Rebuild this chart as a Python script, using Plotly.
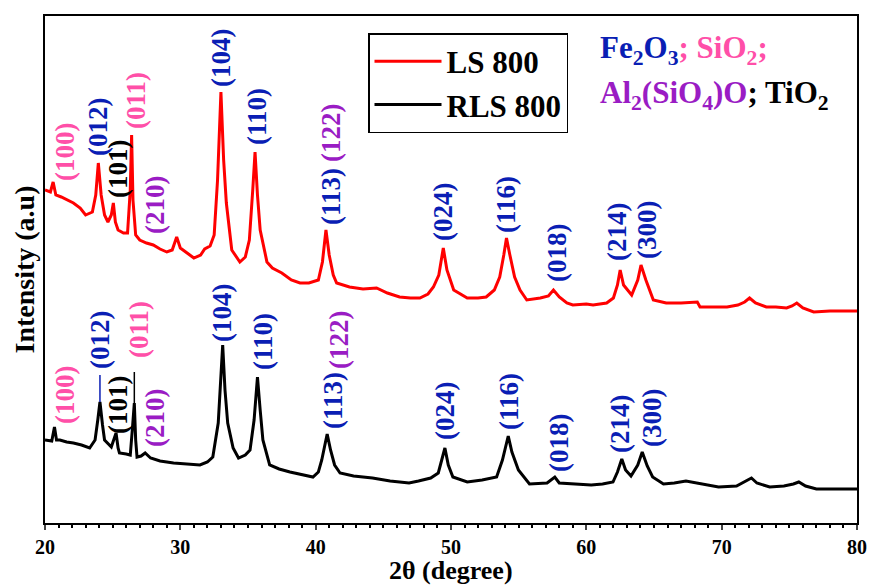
import plotly.graph_objects as go

# ---- data (2theta in degrees, intensity in arbitrary units) ----
ls800_2theta = [20.0, 20.4, 20.6, 20.8, 21.2, 21.6, 22.1, 22.6, 23.0, 23.5, 23.75, 23.94, 24.15, 24.4, 24.65,
                24.9, 25.05, 25.2, 25.4, 25.8, 26.1, 26.3, 26.4, 26.5, 26.7, 27.0, 27.5, 28.0, 28.5, 29.0,
                29.4, 29.73, 30.0, 30.5, 31.0, 31.5, 31.8, 32.2, 32.5, 32.75, 33.0, 33.2, 33.4, 33.8, 34.4,
                34.8, 35.1, 35.35, 35.52, 35.7, 35.9, 36.4, 36.8, 37.5, 38.2, 38.84, 39.5, 40.2, 40.5, 40.76,
                41.0, 41.3, 41.55, 42.5, 43.5, 44.5, 45.3, 46.2, 47.0, 47.7, 48.3, 48.7, 49.1, 49.43, 49.7,
                50.2, 51.2, 52.0, 52.6, 53.2, 53.6, 53.9, 54.1, 54.35, 54.7, 55.1, 55.6, 56.6, 57.2, 57.57,
                58.0, 58.56, 59.0, 60.0, 60.5, 61.5, 62.0, 62.3, 62.5, 62.75, 63.35, 63.8, 64.04, 64.4, 64.95,
                65.9, 67.0, 68.2, 68.4, 69.5, 70.4, 71.2, 71.7, 72.06, 72.5, 73.3, 74.0, 74.8, 75.2, 75.55,
                76.0, 76.8, 78.0, 79.0, 80.0]
ls800_int = [333, 331, 341, 328, 326, 323, 320, 315, 308, 311, 328, 360, 328, 308, 301,
             308, 320, 301, 293, 290, 290, 333, 388, 323, 288, 283, 280, 278, 274, 271,
             273, 286, 275, 270, 265, 268, 274, 277, 288, 343, 431, 363, 320, 273, 261,
             266, 283, 333, 371, 328, 293, 261, 255, 250, 243, 240, 240, 243, 261, 293,
             268, 248, 240, 236, 234, 235, 230, 226, 225, 225, 229, 236, 248, 275, 253,
             233, 225, 225, 226, 233, 246, 268, 285, 268, 246, 233, 223, 225, 227, 233,
             226, 220, 218, 219, 218, 220, 225, 238, 253, 238, 228, 243, 258, 243, 223,
             220, 220, 221, 216, 216, 216, 218, 221, 225, 220, 216, 216, 215, 217, 220,
             215, 211, 212, 212, 212]

rls800_2theta = [20.0, 20.5, 20.7, 20.85, 21.1, 21.6, 22.1, 22.7, 23.3, 23.7, 23.9, 24.06, 24.25, 24.4, 24.9,
                 25.1, 25.25, 25.4, 25.5, 26.0, 26.3, 26.45, 26.6, 26.7, 26.8, 27.1, 27.4, 27.8, 28.5, 29.5,
                 30.5, 31.45, 32.0, 32.4, 32.8, 33.13, 33.3, 33.5, 33.9, 34.3, 34.8, 35.15, 35.45, 35.7, 35.9,
                 36.1, 36.6, 37.3, 38.1, 39.0, 39.8, 40.2, 40.45, 40.85, 41.1, 41.4, 41.8, 42.8, 44.2, 45.5,
                 46.9, 47.6, 48.0, 48.5, 49.06, 49.3, 49.55, 49.8, 50.14, 51.2, 52.3, 53.37, 53.8, 54.23, 54.5,
                 54.98, 55.8, 57.1, 57.67, 58.0, 59.0, 60.36, 61.2, 61.97, 62.3, 62.62, 62.9, 63.3, 63.8, 64.13,
                 64.5, 64.9, 65.7, 66.5, 67.36, 68.5, 69.77, 71.1, 71.8, 72.2, 72.6, 73.55, 74.6, 75.3, 75.7,
                 76.2, 77.0, 78.5, 80.0]
rls800_int = [83, 82, 96, 83, 83, 81, 80, 78, 75, 83, 103, 121, 98, 83, 76,
              83, 90, 75, 70, 69, 68, 93, 120, 83, 66, 67, 70, 65, 62, 60,
              59, 58, 61, 66, 100, 178, 133, 100, 75, 65, 68, 73, 103, 146, 113,
              83, 58, 54, 51, 48, 46, 51, 63, 89, 73, 58, 50, 47, 45, 42,
              40, 42, 43, 45, 50, 63, 75, 58, 46, 41, 43, 46, 63, 87, 71,
              53, 39, 40, 46, 40, 39, 38, 39, 41, 51, 64, 53, 47, 58, 71,
              57, 46, 39, 40, 42, 39, 36, 37, 42, 45, 40, 36, 37, 39, 41,
              37, 34, 34, 34]

tick_vals = [20, 30, 40, 50, 60, 70, 80]

# ---- peak labels: (text, phase, 2theta position, height position) ----
upper_labels = [("(100)", "SiO2", 21.48, 371), ("(012)", "Fe2O3", 23.92, 396), ("(101)", "TiO2", 25.39, 354),
                ("(011)", "SiO2", 26.72, 423), ("(210)", "Al2SiO5", 28.13, 318), ("(104)", "Fe2O3", 33.0, 465),
                ("(110)", "Fe2O3", 35.67, 406), ("(113)", "Fe2O3", 41.13, 327), ("(122)", "Al2SiO5", 41.13, 390),
                ("(024)", "Fe2O3", 49.41, 311), ("(116)", "Fe2O3", 54.06, 319), ("(018)", "Fe2O3", 57.83, 270),
                ("(214)", "Fe2O3", 62.27, 291), ("(300)", "Fe2O3", 64.48, 293)]
lower_labels = [("(100)", "SiO2", 21.48, 128), ("(012)", "Fe2O3", 24.06, 183), ("(101)", "TiO2", 25.39, 118),
                ("(011)", "SiO2", 26.95, 193), ("(210)", "Al2SiO5", 28.13, 105), ("(104)", "Fe2O3", 33.08, 210),
                ("(110)", "Fe2O3", 36.11, 181), ("(113)", "Fe2O3", 41.28, 123), ("(122)", "Al2SiO5", 41.72, 183),
                ("(024)", "Fe2O3", 49.56, 112), ("(116)", "Fe2O3", 54.29, 121), ("(018)", "Fe2O3", 57.98, 80),
                ("(214)", "Fe2O3", 62.49, 99), ("(300)", "Fe2O3", 64.85, 105)]

# leader lines for the lower pattern: (2theta, y from, y to, phase)
leader_lines = [(24.06, 148, 121, "Fe2O3"), (26.6, 151, 120, "TiO2")]

phase_color = {"Fe2O3": "#0A1EB4", "SiO2": "#FF4FA8", "Al2SiO5": "#9A1CC4", "TiO2": "#000000"}

FONT = "Liberation Serif, Times New Roman, serif"

fig = go.Figure()
fig.add_trace(go.Scatter(x=ls800_2theta, y=ls800_int, mode="lines", name="LS 800",
                         line=dict(color="#FF0000", width=3)))
fig.add_trace(go.Scatter(x=rls800_2theta, y=rls800_int, mode="lines", name="RLS 800",
                         line=dict(color="#000000", width=3)))

annotations = []
for txt, ph, xx, yy in upper_labels + lower_labels:
    annotations.append(dict(x=xx, y=yy, xref="x", yref="y", text=txt, showarrow=False, textangle=-90,
                            font=dict(family=FONT, size=27, color=phase_color[ph], weight="bold")))

annotations.append(dict(x=(598 - 45) / 812, y=(523 - 50) / 507, xref="paper", yref="paper", xanchor="left",
                        yanchor="middle", showarrow=False, align="left",
                        text="<span style='color:#0A1EB4'>Fe<sub>2</sub>O<sub>3</sub></span>"
                             "<span style='color:#FF4FA8'>; SiO<sub>2</sub>;</span>",
                        font=dict(family=FONT, size=31, weight="bold")))
annotations.append(dict(x=(598 - 45) / 812, y=(523 - 95) / 507, xref="paper", yref="paper", xanchor="left",
                        yanchor="middle", showarrow=False, align="left",
                        text="<span style='color:#9A1CC4'>Al<sub>2</sub>(SiO<sub>4</sub>)O</span>"
                             "<span style='color:#000000'>; TiO<sub>2</sub></span>",
                        font=dict(family=FONT, size=31, weight="bold")))
# x-axis title
annotations.append(dict(x=0.5, y=(523 - 586) / 507, xref="paper", yref="paper", xanchor="center",
                        yanchor="bottom", showarrow=False, text="2θ (degree)", borderpad=0,
                        font=dict(family=FONT, size=26, color="black", weight="bold")))

shapes = []
for xx, y0, y1, ph in leader_lines:
    shapes.append(dict(type="line", xref="x", yref="y", x0=xx, x1=xx, y0=y0, y1=y1,
                       line=dict(color=phase_color[ph], width=1.5)))

fig.update_layout(
    width=872, height=585,
    margin=dict(l=45, r=15, t=16, b=62),
    paper_bgcolor="white", plot_bgcolor="white",
    font=dict(family=FONT, color="black"),
    annotations=annotations, shapes=shapes,
    legend=dict(x=(368 - 45) / 812, y=(523 - 33) / 507, xanchor="left", yanchor="top",
                bordercolor="black", borderwidth=1.5, bgcolor="white", itemwidth=67,
                font=dict(family=FONT, size=31, color="black", weight="bold"),
                tracegroupgap=0),
    xaxis=dict(range=[20, 80], tickvals=tick_vals, ticks="outside", ticklen=5, tickwidth=2,
               showline=True, linewidth=2, linecolor="black", mirror=True, showgrid=False, zeroline=False,
               automargin=False,
               tickfont=dict(family=FONT, size=20, color="black", weight="bold"),
               minor=dict(dtick=1, ticks="outside", ticklen=3, tickwidth=1.5, tickcolor="black")),
    yaxis=dict(range=[0, 507], showticklabels=False, ticks="", showline=True, linewidth=2,
               linecolor="black", mirror=True, showgrid=False, zeroline=False, automargin=False,
               title=dict(text="Intensity (a.u)", standoff=0,
                          font=dict(family=FONT, size=28, color="black", weight="bold"))),
)

fig.write_html("out.html")
